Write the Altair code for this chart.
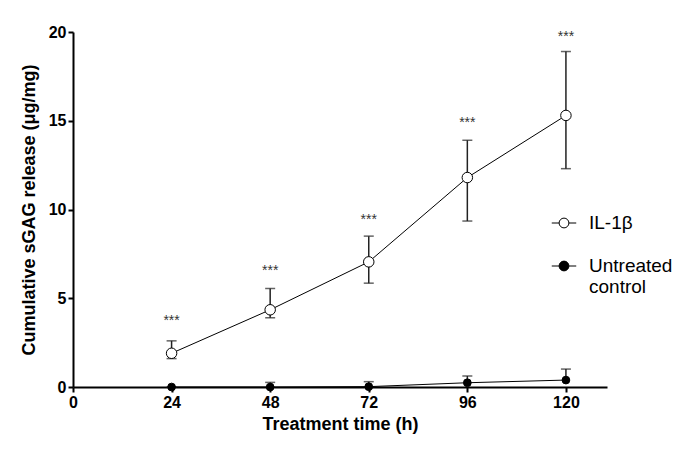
import altair as alt
import pandas as pd

times = [24, 48, 72, 96, 120]
il_mean = [1.9, 4.35, 7.05, 11.8, 15.3]
il_upper = [2.6, 5.55, 8.5, 13.9, 18.9]
il_lower = [1.6, 3.9, 5.85, 9.35, 12.3]
ctrl_mean = [0.0, 0.0, 0.02, 0.24, 0.39]
ctrl_upper = [0.0, 0.26, 0.3, 0.62, 1.01]
star_y = [3.7, 6.55, 9.4, 14.85, 19.7]
star_text = ["***", "***", "***", "***", "***"]
series_names = ["IL-1\u03b2", "Untreated control"]
marker_kind = ["open", "filled"]

rows = []
for t, m, lo, hi in zip(times, il_mean, il_lower, il_upper):
    rows.append({"series": series_names[0], "kind": marker_kind[0], "time": t, "mean": m, "lo": lo, "hi": hi})
for t, m, hi in zip(times, ctrl_mean, ctrl_upper):
    rows.append({"series": series_names[1], "kind": marker_kind[1], "time": t, "mean": m, "lo": m, "hi": hi})
df = pd.DataFrame(rows)
df_caps_lo = df[df["series"] == series_names[0]]
stars = pd.DataFrame({"time": times, "y": star_y, "text": star_text})

FONT = "Liberation Sans"

x = alt.X("time:Q", scale=alt.Scale(domain=[0, 130], nice=False),
          axis=alt.Axis(values=[0, 24, 48, 72, 96, 120], title="Treatment time (h)"))
y = alt.Y("mean:Q", scale=alt.Scale(domain=[0, 20], nice=False),
          axis=alt.Axis(values=[0, 5, 10, 15, 20], title="Cumulative sGAG release (\u03bcg/mg)"))

base = alt.Chart(df)

lines = base.mark_line(color="black", strokeWidth=1).encode(x=x, y=y, detail="series:N")

err = base.mark_rule(color="#222", strokeWidth=1.5).encode(
    x="time:Q", y="lo:Q", y2="hi:Q")
cap_hi = base.mark_tick(orient="horizontal", color="#222", size=10, thickness=1.5).encode(
    x="time:Q", y="hi:Q")
cap_lo = alt.Chart(df_caps_lo).mark_tick(orient="horizontal", color="#222", size=10, thickness=1.5).encode(
    x="time:Q", y="lo:Q")

sym_path = ("M-1,0L-0.4,0M0.4,0L1,0M0.4,0A0.4,0.4,0,1,1,-0.4,0"
            "A0.4,0.4,0,1,1,0.4,0Z")

points = base.mark_point(shape="circle", stroke="black", strokeWidth=1, opacity=1).encode(
    x="time:Q", y="mean:Q",
    size=alt.Size("kind:N", scale=alt.Scale(domain=marker_kind, range=[110, 60]), legend=None),
    fill=alt.Fill("series:N",
                  scale=alt.Scale(domain=series_names, range=["white", "black"]),
                  legend=alt.Legend(
                      title=None, orient="none", legendX=478, legendY=178,
                      symbolType=sym_path, symbolSize=600, symbolStrokeColor="black",
                      symbolStrokeWidth=1, symbolOpacity=1,
                      labelFont=FONT, labelFontSize=19, labelColor="black",
                      labelLimit=300, labelOffset=12, rowPadding=20,
                      labelExpr="datum.label == 'Untreated control' ? ['Untreated', 'control'] : datum.label")),
)

star_layer = alt.Chart(stars).mark_text(font=FONT, fontSize=14, color="#333", baseline="middle").encode(
    x="time:Q", y="y:Q", text="text:N")

chart = alt.layer(lines, err, cap_hi, cap_lo, points, star_layer).properties(
    width=534, height=355,
    autosize=alt.AutoSizeParams(type="none"),
    padding={"left": 65, "top": 24, "right": 70, "bottom": 62},
).configure_view(stroke=None).configure_axis(
    domainColor="black", domainWidth=2, tickColor="black", tickWidth=2, tickSize=5,
    grid=False, labelFont=FONT, labelFontSize=16, labelFontWeight="bold", labelColor="black",
    titleFont=FONT, titleFontSize=18, titleFontWeight="bold", titleColor="black",
    labelPadding=2,
).configure_axisY(titlePadding=10).configure_axisX(titlePadding=5, labelFlush=False)

chart.save("out.html", embed_options={"renderer": "svg", "actions": False})
